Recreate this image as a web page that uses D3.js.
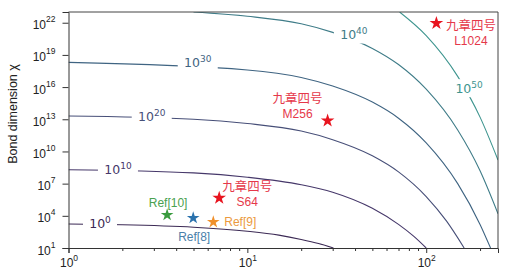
<!DOCTYPE html>
<html>
<head>
<meta charset="utf-8">
<style>
  body { margin: 0; background: #fff; }
  svg { display: block; font-family: "Liberation Sans", Arial, sans-serif; }
</style>
</head>
<body>
<script src="https://d3js.org/d3.v7.min.js"></script>
<script>
const width = 510, height = 271;

// x ticks and y tick exponents
const xMajor = [1, 10, 100];
const xMinor = [2, 3, 4, 5, 6, 7, 8, 9, 20, 30, 40, 50, 60, 70, 80, 90, 200];
const yTickExps = [1, 4, 7, 10, 13, 16, 19, 22];

// contour levels (exponent of 10) and their points, [x, log10 chi]
const levelExps = [0, 10, 20, 30, 40, 50];
const contour0 = [[1, 3.24], [2, 3.17], [5, 2.94], [10, 2.56], [15, 2.2], [20, 1.8], [25, 1.42], [30.3, 1.0]];
const contour10 = [[1, 8.3], [5, 8.0], [10, 7.6], [20, 6.9], [30, 6.2], [50, 4.7], [70, 3.2], [85, 2.1], [100, 1.0]];
const contour20 = [[1, 13.3], [5, 13.0], [10, 12.6], [20, 11.9], [30, 11.1], [50, 9.6], [70, 8.1], [100, 5.8], [130, 3.5], [163, 1.0]];
const contour30 = [[1, 18.3], [10, 17.6], [20, 16.9], [30, 16.1], [50, 14.6], [70, 13.1], [100, 10.8], [150, 7.0], [200, 3.2], [229, 1.0]];
const contour40 = [[5, 23.0], [10, 22.6], [20, 21.9], [30, 21.1], [50, 19.6], [70, 18.1], [100, 15.8], [150, 12.0], [200, 8.2], [252, 4.2]];
const contour50 = [[71, 23.0], [100, 20.8], [150, 17.0], [200, 13.2], [252, 9.2]];
const contours = [contour0, contour10, contour20, contour30, contour40, contour50];
const levelColors = ["#3c2a55", "#46386a", "#474f78", "#3f6482", "#3f7c88", "#3e958f"];
// where each level label sits, [x, log10 chi]
const labelPos = [[1.5, 3.24], [1.89, 8.3], [2.92, 13.3], [5.28, 18.3], [39.4, 20.9], [173.6, 15.9]];

// machines: name, x, log10 chi
const pointNames = ["Ref[10]", "Ref[8]", "Ref[9]", "S64", "M256", "L1024"];
const pointX = [3.56, 4.98, 6.45, 6.96, 28.1, 114];
const pointExp = [4.08, 3.80, 3.42, 5.66, 12.87, 21.95];
const pointColors = ["#3a9b3f", "#2b72ad", "#f0902c", "#e8141f", "#e8141f", "#e8141f"];

const x = d3.scaleLog().domain([1, 252]).range([68.5, 498]);
const y = d3.scaleLog().domain([1e1, 1e23]).range([248, 12]);

const svg = d3.select("body").append("svg")
  .attr("width", width)
  .attr("height", height);

svg.append("clipPath").attr("id", "plot")
  .append("rect")
  .attr("x", 68.5).attr("y", 12)
  .attr("width", 498 - 68.5).attr("height", 248 - 12);

const line = d3.line()
  .x(d => x(d[0]))
  .y(d => y(10 ** d[1]))
  .curve(d3.curveMonotoneX);

const g = svg.append("g").attr("clip-path", "url(#plot)");

g.selectAll("path.contour")
  .data(contours)
  .enter()
  .append("path")
  .attr("class", "contour")
  .attr("d", line)
  .attr("fill", "none")
  .attr("stroke", (d, i) => levelColors[i])
  .attr("stroke-width", 1.1);

// contour labels with white gap behind
const lab = g.selectAll("g.lab")
  .data(levelExps)
  .enter()
  .append("g")
  .attr("class", "lab")
  .attr("transform", (d, i) => `translate(${x(labelPos[i][0])},${y(10 ** labelPos[i][1])})`);

lab.append("rect")
  .attr("x", d => d === 0 ? -17 : -20)
  .attr("width", d => d === 0 ? 34 : 40)
  .attr("y", -9).attr("height", 18)
  .attr("fill", "#fff");

const labText = lab.append("text")
  .attr("text-anchor", "middle")
  .attr("y", 4.5)
  .attr("font-family", "DejaVu Sans, sans-serif")
  .attr("fill", (d, i) => levelColors[i]);
labText.append("tspan").attr("font-size", 12.5).text("10");
labText.append("tspan").attr("font-size", 9).attr("dy", -5).text(d => d);

// axes
const xAxisMinor = d3.axisBottom(x).tickValues(xMinor).tickSize(3).tickFormat("");
const xAxisMajor = d3.axisBottom(x).tickValues(xMajor).tickSize(5).tickFormat("");

const gxMinor = svg.append("g").attr("transform", "translate(0,248)").call(xAxisMinor);
const gx = svg.append("g").attr("transform", "translate(0,248)").call(xAxisMajor);
gxMinor.select(".domain").remove();
[gxMinor, gx].forEach(a => a.selectAll("line").attr("stroke", "#333"));
gx.select(".domain").attr("stroke", "#333");

const xl = gx.selectAll(".tick").append("text")
  .attr("y", 19)
  .attr("text-anchor", "middle")
  .attr("fill", "#222")
  .attr("font-family", "Liberation Sans, Arial, sans-serif");
xl.append("tspan").attr("font-size", 12).text("10");
xl.append("tspan").attr("font-size", 8.5).attr("dy", -6).text(d => Math.round(Math.log10(d)));

const yAxis = d3.axisLeft(y).tickValues(yTickExps.map(e => 10 ** e)).tickSize(6).tickFormat("");
const gy = svg.append("g").attr("transform", "translate(68.5,0)").call(yAxis);
gy.select(".domain").attr("stroke", "#333");
gy.selectAll("line").attr("stroke", "#333");

const yl = gy.selectAll(".tick").append("text")
  .attr("x", -13)
  .attr("y", 6)
  .attr("text-anchor", "end")
  .attr("fill", "#222")
  .attr("font-family", "Liberation Sans, Arial, sans-serif");
yl.append("tspan").attr("font-size", 12).text("10");
yl.append("tspan").attr("font-size", 8.5).attr("dy", -7).text((d, i) => yTickExps[i]);

// box top and right
svg.append("line").attr("x1", 68.5).attr("x2", 498).attr("y1", 12).attr("y2", 12).attr("stroke", "#444");
svg.append("line").attr("x1", 498).attr("x2", 498).attr("y1", 12).attr("y2", 248).attr("stroke", "#444");

svg.append("text")
  .attr("transform", "translate(17,114) rotate(-90)")
  .attr("text-anchor", "middle")
  .attr("font-size", 12.5)
  .attr("fill", "#222")
  .text("Bond dimension χ");

// stars
svg.selectAll("path.star")
  .data(pointNames)
  .enter()
  .append("path")
  .attr("class", "star")
  .attr("transform", (d, i) => `translate(${x(pointX[i])},${y(10 ** pointExp[i])})`)
  .attr("d", (d, i) => d3.symbol(d3.symbolStar, i > 2 ? 58 : 50)())
  .attr("fill", (d, i) => pointColors[i]);

// labels for points
const textColors = {"Ref[10]": "#4aa150", "Ref[8]": "#4a80aa", "Ref[9]": "#eb9a3e"};
const px = i => x(pointX[i]);
const py = i => y(10 ** pointExp[i]);

svg.append("text").attr("x", px(0) + 1).attr("y", py(0) - 8).attr("text-anchor", "middle")
  .attr("font-size", 12).attr("fill", textColors["Ref[10]"]).text("Ref[10]");
svg.append("text").attr("x", px(1) + 1).attr("y", py(1) + 23).attr("text-anchor", "middle")
  .attr("font-size", 12).attr("fill", textColors["Ref[8]"]).text("Ref[8]");
svg.append("text").attr("x", px(2) + 11).attr("y", py(2) + 4).attr("text-anchor", "start")
  .attr("font-size", 12).attr("fill", textColors["Ref[9]"]).text("Ref[9]");

const redText = "#e5384a";
const cjk = "Noto Sans CJK SC, sans-serif";
[[3, 28, -7, 8], [4, -30, -18, -3], [5, 34.5, 7, 22]].forEach(([i, dx, dy1, dy2]) => {
  svg.append("text").attr("x", px(i) + dx).attr("y", py(i) + dy1).attr("text-anchor", "middle")
    .attr("font-family", cjk).attr("font-size", 12.5).attr("fill", redText).text("九章四号");
  svg.append("text").attr("x", px(i) + dx).attr("y", py(i) + dy2).attr("text-anchor", "middle")
    .attr("font-size", 12).attr("fill", redText).text(pointNames[i]);
});
</script>
</body>
</html>
